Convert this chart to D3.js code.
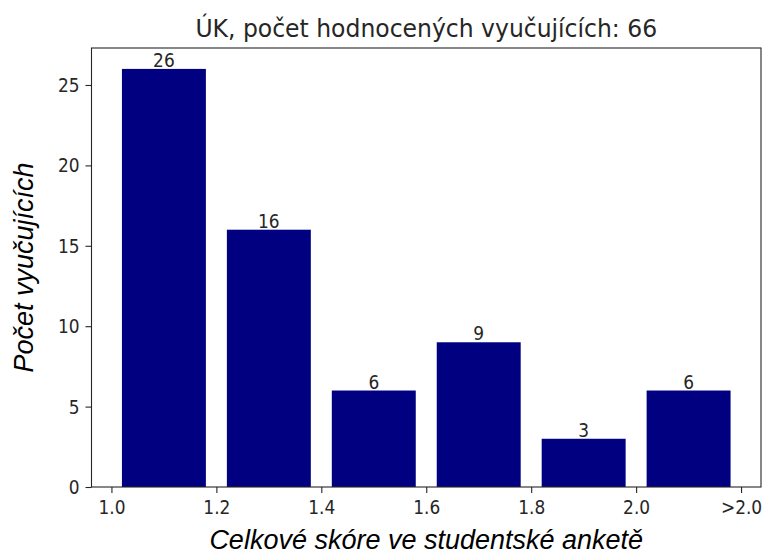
<!DOCTYPE html>
<html><head><meta charset="utf-8">
<script src="https://cdn.jsdelivr.net/npm/d3@7"></script>
<style>body{margin:0;background:#fff}svg{display:block}</style>
</head><body>
<svg id="c" width="766" height="558"></svg>
<script>
const binCenters = [1.1, 1.3, 1.5, 1.7, 1.9, 2.1];
const counts = [26, 16, 6, 9, 3, 6];
const xTickValues = [1.0, 1.2, 1.4, 1.6, 1.8, 2.0, 2.2];
const xTickLabels = ["1.0", "1.2", "1.4", "1.6", "1.8", "2.0", ">2.0"];
const yTickValues = [0, 5, 10, 15, 20, 25];
const titleText = "ÚK, počet hodnocených vyučujících: 66";
const xLabel = "Celkové skóre ve studentské anketě";
const yLabel = "Počet vyučujících";
const barWidth = 0.16;

const svg = d3.select("#c");
const L = 91.5, R = 761, T = 48, B = 487;
const xmin = d3.min(binCenters) - barWidth/2, xmax = d3.max(binCenters) + barWidth/2;
const xm = (xmax - xmin) * 0.05;
const x = d3.scaleLinear().domain([xmin - xm, xmax + xm]).range([L, R]);
const y = d3.scaleLinear().domain([0, d3.max(counts) * 1.05]).range([B, T]);
const data = binCenters.map((c, i) => ({c, v: counts[i]}));
const ink = "#262626";
const vs = 1.18; // vertical stretch of small text to mimic the reference rendering

svg.append("g").selectAll("rect").data(data).join("rect")
  .attr("x", d => x(d.c - barWidth/2)).attr("width", d => x(d.c + barWidth/2) - x(d.c - barWidth/2))
  .attr("y", d => y(d.v)).attr("height", d => y(0) - y(d.v))
  .attr("fill", "#000080");

svg.append("g").selectAll("text").data(data).join("text")
  .attr("transform", d => `translate(${x(d.c)},${y(d.v) - 2}) scale(1,${vs})`)
  .attr("text-anchor", "middle")
  .attr("font-family", "DejaVu Sans").attr("font-size", 17).attr("fill", ink)
  .text(d => d.v);

const xAxis = d3.axisBottom(x).tickValues(xTickValues).tickFormat((d, i) => xTickLabels[i]).tickSize(6).tickPadding(5);
const gx = svg.append("g").attr("transform", `translate(0,${B})`).call(xAxis);
gx.select(".domain").remove();
const yAxis = d3.axisLeft(y).tickValues(yTickValues).tickSize(6).tickPadding(6);
const gy = svg.append("g").attr("transform", `translate(${L},0)`).call(yAxis);
gy.select(".domain").remove();
[gx, gy].forEach(g => {
  g.selectAll("text").attr("font-family", "DejaVu Sans").attr("font-size", 17).attr("fill", ink)
    .attr("transform", `scale(1,${vs})`);
  g.selectAll("line").attr("stroke", ink).attr("stroke-width", 1.1);
});

svg.append("rect").attr("x", L).attr("y", T).attr("width", R - L).attr("height", B - T)
  .attr("fill", "none").attr("stroke", ink).attr("stroke-width", 1.1);

svg.append("text").attr("transform", `translate(${(L + R)/2},37) scale(1,1.06)`).attr("text-anchor", "middle")
  .attr("font-family", "DejaVu Sans").attr("font-size", 23.5).attr("fill", ink).text(titleText);

svg.append("text").attr("x", (L + R)/2).attr("y", 549).attr("text-anchor", "middle")
  .attr("font-family", "Liberation Sans").attr("font-style", "italic").attr("font-size", 27).attr("fill", "#000").text(xLabel);

svg.append("text").attr("transform", `translate(33,${(T + B)/2}) rotate(-90)`).attr("text-anchor", "middle")
  .attr("font-family", "Liberation Sans").attr("font-style", "italic").attr("font-size", 27).attr("fill", "#000").text(yLabel);
</script>
</body></html>
